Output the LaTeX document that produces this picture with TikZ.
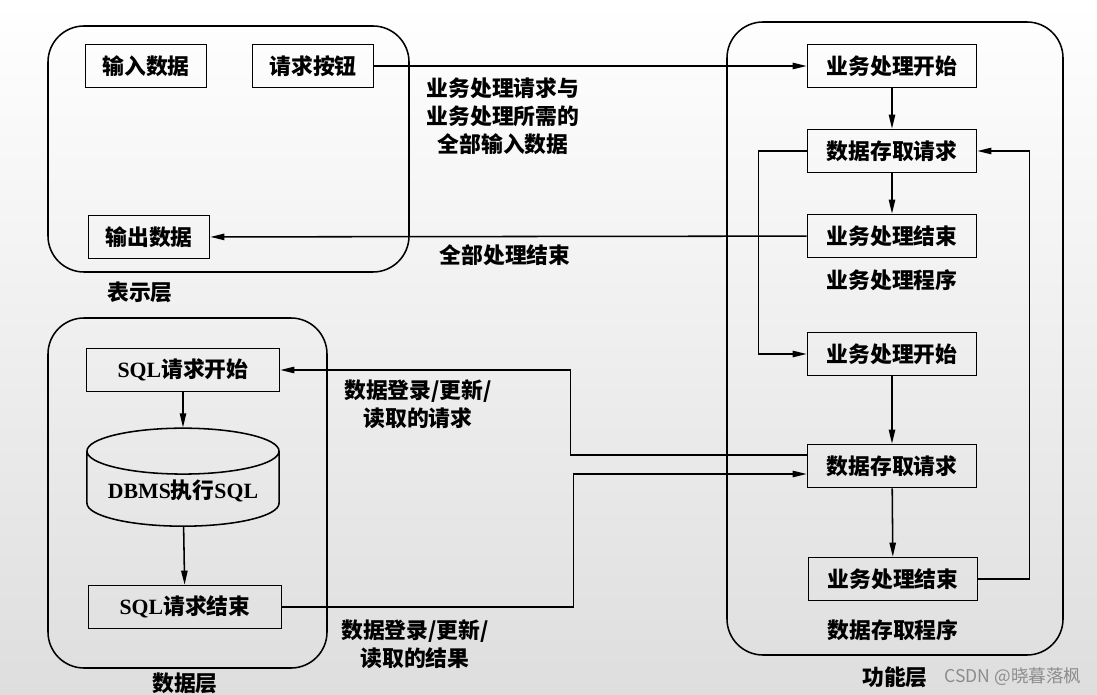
\documentclass[tikz,border=0pt]{standalone}
\usepackage{fontspec}
\setmainfont{Noto Sans CJK SC}
\newfontfamily\lat{Liberation Serif}
\usetikzlibrary{arrows.meta,shapes.geometric}
\tikzset{
  box/.style     = {shape=rectangle, draw, line width=1.1pt,
                    minimum width=4.225cm, minimum height=1.075cm, inner sep=1pt},
  smallbox/.style= {box, minimum width=3.025cm},
  sqlbox/.style  = {box, minimum width=4.825cm},
  db/.style      = {cylinder, shape border rotate=90, draw, line width=1.1pt,
                    minimum width=4.8cm, minimum height=2.45cm, aspect=0.3, inner sep=1pt},
  layer/.style   = {draw, line width=1.1pt, rounded corners=0.9cm},
  caption/.style = {align=center},
  arr/.style     = {draw, line width=1.1pt, -{Triangle[length=10pt,width=4.5pt]}}
}

\begin{document}
\begin{tikzpicture}
  [
    x = 0.025cm, y = -0.025cm,
    every node/.style = {font=\fontsize{15.5pt}{20pt}\selectfont\bfseries}
  ]
  \useasboundingbox (0,0) rectangle (1097,695);
  \shade[top color=white, bottom color=black!13] (0,0) rectangle (1097,695);

  % layers
  \draw[layer] (48,26) rectangle (409,272);
  \draw[layer] (727,22) rectangle (1063,655);
  \draw[layer] (48,318) rectangle (327,668);

  \node [caption] (presname) at (140,292) {表示层};
  \node [caption] (funcname) at (895,677) {功能层};
  \node [caption] (dataname) at (185,683) {数据层};

  % presentation layer
  \node [smallbox] (in)  at (146,66)  {输入数据};
  \node [smallbox] (btn) at (313,66)  {请求按钮};
  \node [smallbox] (out) at (149,237) {输出数据};

  % function layer
  \node [box] (bs1) at (892,66)  {业务处理开始};
  \node [box] (dr1) at (892,151) {数据存取请求};
  \node [box] (be1) at (892,236) {业务处理结束};
  \node [caption] (bizname) at (892,280) {业务处理程序};
  \node [box] (bs2) at (892,354) {业务处理开始};
  \node [box] (dr2) at (892,466) {数据存取请求};
  \node [box] (be2) at (893,579) {业务处理结束};
  \node [caption] (accname) at (893,630) {数据存取程序};

  % data layer
  \node [sqlbox] (sqs) at (183,370) {{\lat SQL}请求开始};
  \node [db]     (dbms) at (183,491) {{\lat DBMS}执行{\lat SQL}};
  \node [sqlbox] (sqe) at (185,607) {{\lat SQL}请求结束};

  % connectors
  \draw[arr] (btn) -- (bs1);
  \draw[arr] (be1) -- (out);
  \draw[arr] (bs1) -- (dr1);
  \draw[arr] (dr1) -- (be1);
  \draw[arr] (bs2) -- (dr2);
  \draw[arr] (dr2) -- (be2);
  \draw[arr] (dr1.west) -- ++(-48,0) |- (bs2.west);
  \draw[arr] (be2.east) -- ++(51,0) |- (dr1.east);
  \draw[arr] ([yshift=0.27cm]dr2.west) -- ++(-236,0) |- (sqs.east);
  \draw[arr] (sqe.east) -- ++(291,0) |- ([yshift=-0.2cm]dr2.west);
  \draw[arr] (sqs) -- (dbms);
  \draw[arr] (dbms) -- (sqe);

  \node [caption] (reqtxt) at (503,116) {业务处理请求与\\业务处理所需的\\全部输入数据};
  \node [caption] (endtxt) at (505,255) {全部处理结束};
  \node [caption] (sqlreq) at (418,404) {数据登录/更新/\\读取的请求};
  \node [caption] (sqlres) at (415,644) {数据登录/更新/\\读取的结果};

  \node [text=black!45, font=\fontsize{12.5pt}{14pt}\selectfont] (mark) at (1013,677) {CSDN @晓暮落枫};
\end{tikzpicture}
\end{document}
